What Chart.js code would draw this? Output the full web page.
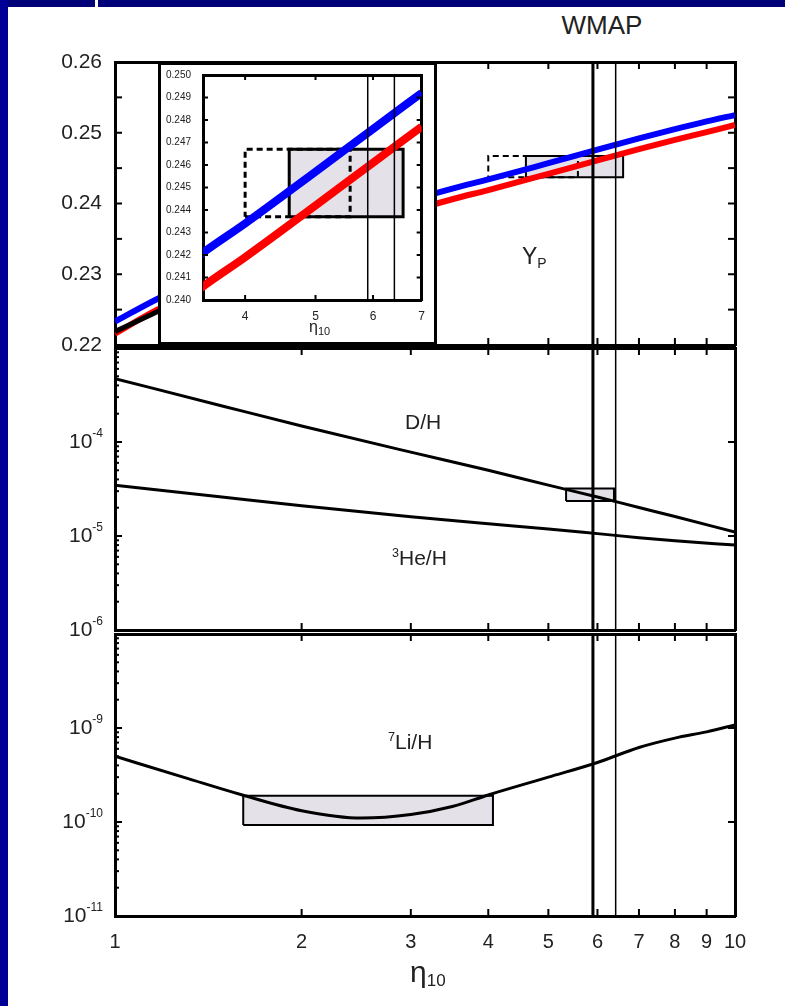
<!DOCTYPE html>
<html>
<head>
<meta charset="utf-8">
<script src="https://cdn.jsdelivr.net/npm/chart.js@4.4.1/dist/chart.umd.min.js"></script>
<style>
body { margin: 0; background: #fff; width: 785px; height: 1006px; overflow: hidden; position: relative;
       font-family: "Liberation Sans", Arial, sans-serif; }
canvas { position: absolute; left: 0; }
.lbl { position: absolute; color: #222; white-space: nowrap; line-height: 1; }
.lbl sup { font-size: 0.6em; line-height: 0; vertical-align: 0.6em; }
.lbl sub { font-size: 0.6em; line-height: 0; vertical-align: -0.25em; }
#topband { position: absolute; left: 0; top: 0; width: 785px; height: 7px; background: #000078; }
#notch { position: absolute; left: 95px; top: 0; width: 3px; height: 7px; background: #fff; }
#leftband { position: absolute; left: 0; top: 0; width: 8px; height: 1006px; background: #000096; }
#inset { position: absolute; left: 158px; top: 62px; width: 279px; height: 283px; box-sizing: border-box;
         border: 3px solid #000; background: #fff; }
#inset canvas { top: 0; }
</style>
</head>
<body>
<div id="topband"></div><div id="notch"></div><div id="leftband"></div>

<canvas id="yp" width="785" height="320" style="top:40px"></canvas>
<canvas id="dh" width="785" height="315" style="top:330px"></canvas>
<canvas id="li" width="785" height="386" style="top:620px"></canvas>
<div id="inset"><canvas id="ins" width="273" height="277"></canvas></div>

<div class="lbl" style="left:602px;top:12px;font-size:26px;transform:translateX(-50%)">WMAP</div>
<div class="lbl" style="left:522px;top:245px;font-size:23px">Y<sub style="font-size:14px">P</sub></div>
<div class="lbl" style="left:405px;top:411px;font-size:21px">D/H</div>
<div class="lbl" style="left:392px;top:547px;font-size:21px"><sup>3</sup>He/H</div>
<div class="lbl" style="left:388px;top:731px;font-size:21px"><sup>7</sup>Li/H</div>
<div class="lbl" style="left:410px;top:957px;font-size:30px">η<sub style="font-size:17px">10</sub></div>
<div class="lbl" style="left:309px;top:319px;font-size:16px">η<sub style="font-size:11px">10</sub></div>

<script>
// eta_10 grid and helium mass fraction curves
const etaYp = [1, 1.17, 1.5, 2, 2.5, 3, 3.5, 4, 5, 6, 7, 8, 9, 10];
const ypBlue = [0.2233, 0.2265, 0.2308, 0.2350, 0.2380, 0.2404, 0.2421, 0.2434, 0.2457, 0.2476, 0.2492, 0.2505, 0.2516, 0.2525];
const ypRed = [0.2216, 0.2250, 0.2292, 0.2335, 0.2365, 0.2389, 0.2406, 0.2419, 0.2442, 0.2461, 0.2477, 0.2490, 0.2501, 0.2511];
const etaBlack = [1, 1.17, 1.4];
const ypBlack = [0.2219, 0.2247, 0.2278];

// D/H and 3He/H
const etaDH = [1, 1.5, 2, 3, 4, 5, 6, 7, 8, 10];
const dhVals = [4.72e-4, 2.39e-4, 1.48e-4, 7.8e-5, 5.0e-5, 3.48e-5, 2.6e-5, 2.01e-5, 1.61e-5, 1.1e-5];
const he3Vals = [3.46e-5, 2.58e-5, 2.1e-5, 1.6e-5, 1.35e-5, 1.19e-5, 1.06e-5, 9.6e-6, 8.9e-6, 8.0e-6];

// 7Li/H
const etaLi = [1, 1.3, 1.6, 2, 2.5, 3, 3.5, 4, 5, 6, 7, 8, 9, 10];
const liVals = [5.0e-10, 2.95e-10, 1.95e-10, 1.32e-10, 1.1e-10, 1.2e-10, 1.46e-10, 1.94e-10, 3.0e-10, 4.3e-10, 6.2e-10, 7.8e-10, 9.1e-10, 1.08e-9];

// WMAP band and observational boxes
const wmapEta = [5.9, 6.42];
const ypBoxEta = [4.6, 6.6];
const ypDashEta = [4.0, 5.58];
const ypBoxY = [0.2437, 0.2467];
const dhBoxEta = [5.34, 6.38];
const dhBoxY = [2.35e-5, 3.2e-5];
const liBoxEta = [1.61, 4.07];
const liBoxY = [0.93e-10, 1.9e-10];

// ticks
const xTicks = [1, 2, 3, 4, 5, 6, 7, 8, 9, 10];
const insetXTicks = [4, 5, 6, 7];
const ypTicks = [0.22, 0.225, 0.23, 0.235, 0.24, 0.245, 0.25, 0.255, 0.26];
const insetYTicks = [0.240, 0.241, 0.242, 0.243, 0.244, 0.245, 0.246, 0.247, 0.248, 0.249, 0.250];

const FONT = '"Liberation Sans", Arial, sans-serif';
Chart.defaults.font.family = FONT;
Chart.defaults.color = '#222';

const pts = (xs, ys) => xs.map((x, i) => ({x: x, y: ys[i]}));
const box = (ex, ey) => [
    {x: ex[0], y: ey[0]}, {x: ex[1], y: ey[0]}, {x: ex[1], y: ey[1]},
    {x: ex[0], y: ey[1]}, {x: ex[0], y: ey[0]}
];
const vline = (x, lo, hi) => [{x: x, y: lo}, {x: x, y: hi}];

const isDecade = v => Math.abs(Math.log10(v) - Math.round(Math.log10(v))) < 1e-6;

function logTicks(lo, hi) {
    let out = [];
    for (let e = Math.round(Math.log10(lo)); e < Math.round(Math.log10(hi)); e++) {
        for (let k = 1; k < 10; k++) out.push(k * Math.pow(10, e));
    }
    out.push(hi);
    return out;
}

// small inward ticks on every side of the frame
const inTicks = {
    id: 'inTicks',
    afterDatasetsDraw(chart, args, o) {
        const ctx = chart.ctx, a = chart.chartArea;
        ctx.save();
        ctx.strokeStyle = '#000';
        ctx.lineWidth = o.width || 2;
        Object.values(chart.scales).forEach(s => {
            s.ticks.forEach(t => {
                const p = s.getPixelForValue(t.value);
                const minor = s.type === 'logarithmic' && s.axis === 'y' && !isDecade(t.value);
                const len = minor ? o.minor : o.len;
                ctx.beginPath();
                if (s.position === 'left') { ctx.moveTo(a.left, p); ctx.lineTo(a.left + len, p); }
                else if (s.position === 'right') { ctx.moveTo(a.right, p); ctx.lineTo(a.right - len, p); }
                else if (s.position === 'top') { ctx.moveTo(p, a.top); ctx.lineTo(p, a.top + len); }
                else { ctx.moveTo(p, a.bottom); ctx.lineTo(p, a.bottom - len); }
                ctx.stroke();
            });
        });
        ctx.restore();
    }
};

// "10" with a small raised exponent for the decade ticks of the log axes
const expLabels = {
    id: 'expLabels',
    afterDraw(chart) {
        const s = chart.scales.y;
        if (s.type !== 'logarithmic') return;
        const ctx = chart.ctx;
        ctx.save();
        ctx.fillStyle = '#222';
        ctx.textAlign = 'right';
        ctx.textBaseline = 'middle';
        s.ticks.forEach(t => {
            if (!isDecade(t.value) || t.value >= s.max * 0.99) return;
            const y = s.getPixelForValue(t.value);
            const x = chart.chartArea.left - 12;
            const e = String(Math.round(Math.log10(t.value)));
            ctx.font = '12px ' + FONT;
            const ew = ctx.measureText(e).width;
            ctx.fillText(e, x, y - 8);
            ctx.font = '21px ' + FONT;
            ctx.fillText('10', x - ew, y);
        });
        ctx.restore();
    }
};
Chart.register(inTicks, expLabels);

function xScales(min, max, tickList, labels, fontSize, pad, h, bw) {
    const base = {
        type: 'logarithmic', min: min, max: max,
        afterBuildTicks: s => { s.ticks = tickList.map(v => ({value: v})); },
        grid: {drawOnChartArea: false, drawTicks: false},
        border: {color: '#000', width: bw}
    };
    return {
        x: Object.assign({}, base, {
            position: 'bottom',
            ticks: {display: labels, autoSkip: false, maxRotation: 0, padding: pad, font: {size: fontSize}, callback: v => String(v)},
            afterFit: s => { s.height = h; }
        }),
        x2: Object.assign({}, base, {
            position: 'top',
            ticks: {display: false, autoSkip: false},
            afterFit: s => { s.height = 0; }
        })
    };
}

function yScales(type, min, max, tickList, rightList, label, fontSize, gap, w, bw) {
    const base = {
        type: type, min: min, max: max,
        border: {color: '#000', width: bw}
    };
    return {
        y: Object.assign({}, base, {
            position: 'left',
            afterBuildTicks: s => { s.ticks = tickList.map(v => ({value: v})); },
            // invisible tick marks keep the labels off the frame
            grid: {drawOnChartArea: false, drawTicks: true, tickLength: gap, tickColor: 'rgba(0,0,0,0)'},
            ticks: {display: !!label, autoSkip: false, padding: 0, font: {size: fontSize}, callback: label || (() => '')},
            afterFit: s => { s.width = w; }
        }),
        y2: Object.assign({}, base, {
            position: 'right',
            afterBuildTicks: s => { s.ticks = rightList.map(v => ({value: v})); },
            grid: {drawOnChartArea: false, drawTicks: false},
            ticks: {display: false, autoSkip: false},
            afterFit: s => { s.width = 0; }
        })
    };
}

const curve = (data, color, width) => ({
    data: data, showLine: true, borderColor: color, borderWidth: width,
    pointRadius: 0, cubicInterpolationMode: 'monotone', fill: false
});
const rect = (data, filled, dash, width) => ({
    data: data, showLine: true, borderColor: '#000', borderWidth: width, pointRadius: 0,
    tension: 0, fill: filled ? 'shape' : false, backgroundColor: '#e5e1e9', borderDash: dash
});
const wline = (data, width) => ({
    data: data, showLine: true, borderColor: '#000', borderWidth: width, pointRadius: 0, tension: 0, fill: false
});

function makeChart(id, datasets, scales, padding, tickOpts) {
    return new Chart(document.getElementById(id), {
        type: 'scatter',
        data: {datasets: datasets},
        options: {
            responsive: false,
            animation: false,
            layout: {padding: padding},
            plugins: {legend: {display: false}, tooltip: {enabled: false}, inTicks: tickOpts},
            scales: scales
        }
    });
}

// Yp panel
makeChart('yp', [
    Object.assign(wline(vline(wmapEta[0], 0.22, 0.26), 3), {order: 0}),
    Object.assign(wline(vline(wmapEta[1], 0.22, 0.26), 1.5), {order: 0}),
    Object.assign(curve(pts(etaYp, ypBlue), '#0000ff', 6), {order: 2}),
    Object.assign(curve(pts(etaBlack, ypBlack), '#000', 5), {order: 2}),
    Object.assign(curve(pts(etaYp, ypRed), '#ff0000', 6), {order: 3}),
    Object.assign(rect(box(ypDashEta, ypBoxY), false, [6, 4], 2), {order: 4}),
    Object.assign(rect(box(ypBoxEta, ypBoxY), true, [], 2), {order: 5})
], Object.assign(
    xScales(1, 10, xTicks, false, 20, 0, 0, 3),
    yScales('linear', 0.22, 0.26, ypTicks, ypTicks,
        v => Math.abs(v * 100 - Math.round(v * 100)) < 1e-6 ? v.toFixed(2) : '', 21, 13, 115, 3)
), {top: 22, bottom: 15, left: 0, right: 50}, {len: 7, minor: 4, width: 2});

// D/H and 3He/H panel
makeChart('dh', [
    Object.assign(wline(vline(wmapEta[0], 1e-6, 1e-3), 3), {order: 0}),
    Object.assign(wline(vline(wmapEta[1], 1e-6, 1e-3), 1.5), {order: 0}),
    Object.assign(curve(pts(etaDH, dhVals), '#000', 3), {order: 2}),
    Object.assign(curve(pts(etaDH, he3Vals), '#000', 3), {order: 2}),
    Object.assign(rect(box(dhBoxEta, dhBoxY), true, [], 2), {order: 5})
], Object.assign(
    xScales(1, 10, xTicks, false, 20, 0, 0, 3),
    yScales('logarithmic', 1e-6, 1e-3, logTicks(1e-6, 1e-3), [1e-6, 1e-5, 1e-4, 1e-3], null, 21, 12, 115, 3)
), {top: 18, bottom: 15, left: 0, right: 50}, {len: 7, minor: 4, width: 2});

// 7Li/H panel with the eta_10 axis
makeChart('li', [
    Object.assign(wline(vline(wmapEta[0], 1e-11, 1e-8), 3), {order: 0}),
    Object.assign(wline(vline(wmapEta[1], 1e-11, 1e-8), 1.5), {order: 0}),
    Object.assign(curve(pts(etaLi, liVals), '#000', 3), {order: 2}),
    Object.assign(rect(box(liBoxEta, liBoxY), true, [], 2), {order: 5})
], Object.assign(
    xScales(1, 10, xTicks, true, 20, 14, 40, 3),
    yScales('logarithmic', 1e-11, 1e-8, logTicks(1e-11, 1e-8), [1e-11, 1e-10, 1e-9, 1e-8], null, 21, 12, 115, 3)
), {top: 14, bottom: 50, left: 0, right: 50}, {len: 7, minor: 4, width: 2});

// zoomed inset of the Yp region
makeChart('ins', [
    Object.assign(wline(vline(wmapEta[0], 0.24, 0.25), 1.5), {order: 0}),
    Object.assign(wline(vline(wmapEta[1], 0.24, 0.25), 1.5), {order: 0}),
    Object.assign(curve(pts(etaYp, ypBlue), '#0000ff', 8), {order: 2}),
    Object.assign(curve(pts(etaYp, ypRed), '#ff0000', 8), {order: 3}),
    Object.assign(rect(box(ypDashEta, ypBoxY), false, [6, 4], 3), {order: 4}),
    Object.assign(rect(box(ypBoxEta, ypBoxY), true, [], 3), {order: 5})
], Object.assign(
    xScales(3.5, 7, insetXTicks, true, 12, 9, 22, 3),
    yScales('linear', 0.24, 0.25, insetYTicks, insetYTicks, v => v.toFixed(3), 10, 12, 42, 3)
), {top: 10, bottom: 20, left: 0, right: 5}, {len: 5, minor: 3, width: 2});
</script>
</body>
</html>
